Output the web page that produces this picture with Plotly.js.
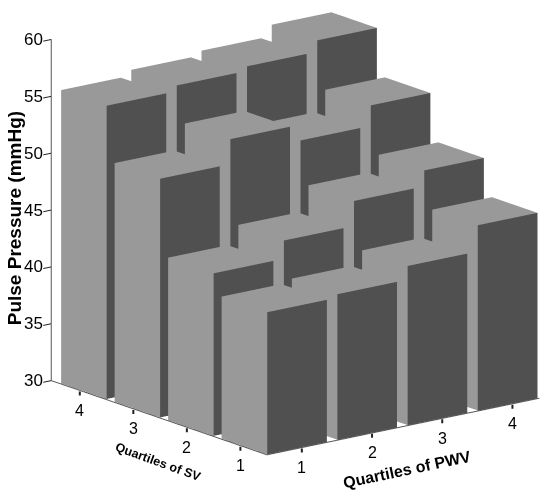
<!DOCTYPE html>
<html><head><meta charset="utf-8">
<script src="https://cdn.plot.ly/plotly-3.0.1.min.js"></script>
<style>html,body{margin:0;padding:0;background:#fff}#c{width:545px;height:490px}</style>
</head><body><div id="c"></div>
<script>
var pwvCategories=[1,2,3,4];
var svCategories=[1,2,3,4];
var zTicks=[30,35,40,45,50,55,60];
var valuesSV1=[42.5,42.8,44.0,46.3];
var valuesSV2=[44.3,45.9,48.1,49.5];
var valuesSV3=[51.0,53.2,51.8,53.6];
var valuesSV4=[55.8,56.3,56.7,57.7];
var allValues=[valuesSV1,valuesSV2,valuesSV3,valuesSV4];
var LIGHT='#999999',DARK='#505050',hw=0.425,base=30,lo=0.56,hiX=4.44,hiY=4.59;
var traces=[];
svCategories.forEach(function(sv,r){pwvCategories.forEach(function(pw,c){
 var X=[],Y=[],Z=[],I=[],J=[],K=[],FC=[];
 function quad(p,col){var n=X.length;p.forEach(function(q){X.push(q[0]);Y.push(q[1]);Z.push(q[2]);});
  I.push(n,n);J.push(n+1,n+2);K.push(n+2,n+3);FC.push(col,col);}
 var h=allValues[r][c],x0=pw-hw,x1=pw+hw,y0=sv-hw,y1=sv+hw;
 quad([[x0,y0,h],[x1,y0,h],[x1,y1,h],[x0,y1,h]],LIGHT);
 quad([[x0,y0,base],[x1,y0,base],[x1,y0,h],[x0,y0,h]],DARK);
 quad([[x0,y0,base],[x0,y1,base],[x0,y1,h],[x0,y0,h]],LIGHT);
 traces.push({type:'mesh3d',x:X,y:Y,z:Z,i:I,j:J,k:K,facecolor:FC,flatshading:true,hoverinfo:'skip',showscale:false,
  lighting:{ambient:1,diffuse:0,specular:0,fresnel:0,roughness:1},lightposition:{x:0,y:0,z:1000}});
});});
var fam='Liberation Sans, Arial, sans-serif';
function ax(range,tv,t){return {title:{text:''},range:range,tickvals:tv,showticklabels:false,
 showgrid:false,showbackground:false,zeroline:false,showspikes:false,showline:true,linecolor:'#555',linewidth:2,ticks:t,ticklen:6,tickcolor:'#222',tickwidth:2,autorange:false};}
function note(x,y,z,text,size,xs,ys,extra){var a={x:x,y:y,z:z,text:text,showarrow:false,xshift:xs,yshift:ys,font:{family:fam,size:size,color:'#000'}};
 for(var k in (extra||{}))a[k]=extra[k];return a;}
var tickOpts={showarrow:true,arrowhead:0,arrowwidth:2,arrowcolor:'#222',ax:0,ay:19,standoff:0,startstandoff:5};
var notes=[];
zTicks.forEach(function(v){notes.push(note(lo,hiY,v,String(v),17,-6,0,{xanchor:'right'}));});
svCategories.forEach(function(v){notes.push(note(lo,v,30,String(v),16,-3,0,tickOpts));});
pwvCategories.forEach(function(v){notes.push(note(v,lo,30,String(v),16,4,0,tickOpts));});
notes.push(note(lo,2.5,30,'<b>Quartiles of SV</b>',12.5,-5,-43,{textangle:20}));
notes.push(note(2.5,lo,30,'<b>Quartiles of PWV</b>',16,4,-43,{textangle:-12}));
notes.push(note(lo,hiY,45,'<b>Pulse Pressure (mmHg)</b>',19,-37,-8,{textangle:-90}));
var dc={x:-0.075,y:0.055,z:-0.11};
var layout={width:545,height:490,margin:{l:0,r:0,t:0,b:0},paper_bgcolor:'#fff',showlegend:false,
 scene:{domain:{x:[0,1],y:[0,1]},
  xaxis:ax([lo,hiX],pwvCategories,''),
  yaxis:ax([lo,hiY],svCategories,''),
  zaxis:ax([30,60],zTicks,'outside'),
  annotations:notes,
  aspectmode:'manual',aspectratio:{x:1.408,y:1.435,z:1.445},
  camera:{projection:{type:'orthographic'},eye:{x:-1.203+dc.x,y:-1.548+dc.y,z:0.544+dc.z},center:dc,up:{x:0,y:0,z:1}}}};
Plotly.newPlot('c',traces,layout,{displayModeBar:false});
</script></body></html>
